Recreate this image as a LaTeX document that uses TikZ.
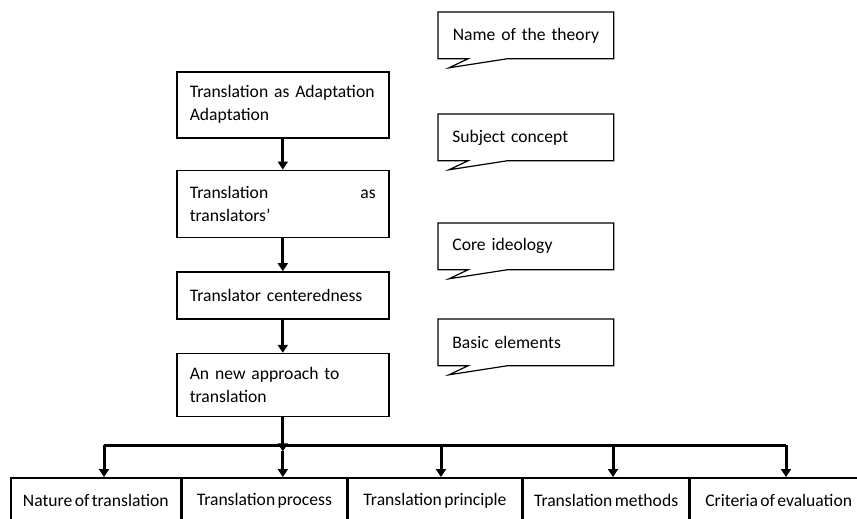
\documentclass[tikz,border=0pt]{standalone}
\usepackage{fontspec}
\setmainfont{Carlito}[WordSpace=0.6]
\usetikzlibrary{arrows.meta, positioning, calc}

\begin{document}
\begin{tikzpicture}[
    x=0.5pt, y=-0.5pt,
    box/.style={rectangle, draw, line width=0.8pt, text width=93pt, inner xsep=6.5pt, align=left, font=\fontsize{8.8}{11.5}\selectfont},
    note/.style={rectangle, minimum height=23pt, text width=73.5pt, inner xsep=7pt, align=left, font=\fontsize{8.8}{11.5}\selectfont},
    part/.style={rectangle, draw, line width=0.8pt, minimum height=23pt, inner xsep=2pt, align=center, font=\fontsize{8.8}{11.5}\selectfont},
    arrow/.style={-{Triangle[width=5pt,length=4pt]}, line width=1.5pt},
]
\useasboundingbox (0,0) rectangle (857,519);

% main column
\node[box, minimum height=33pt, anchor=north west] (adapt) at (176,71) {Translation as Adaptation\\Adaptation};
\node[box, minimum height=33.5pt, below=15.5pt of adapt] (view) {Translation\hfill as\\translators'};
\node[box, minimum height=23.5pt, below=16.5pt of view] (centre) {Translator centeredness};
\node[box, minimum height=31.5pt, below=16.5pt of centre] (approach) {An new approach to\\translation};

% callouts
\node[note, align=center, anchor=north west] (name) at (438,12) {Name of the theory};
\node[note, anchor=north west] (subject) at (438,114) {Subject concept};
\node[note, anchor=north west] (core) at (438,223) {Core ideology};
\node[note, anchor=north west] (basic) at (438,319) {Basic elements};
\foreach \n in {name,subject,core,basic}
  \draw[line width=0.6pt] (\n.south west) |- (\n.north east) |- ($(\n.south west)+(69,0)$)
    -- ($(\n.south west)+(11,9)$) -- ($(\n.south west)+(30,0)$) -- cycle;

% basic elements
\node[part, minimum width=85pt, anchor=north west] (nature) at (10,477) {Nature of translation};
\node[part, minimum width=82pt, right=0pt of nature] (process) {Translation process};
\node[part, minimum width=87pt, right=0pt of process] (principle) {Translation principle};
\node[part, minimum width=82.5pt, right=0pt of principle] (methods) {Translation methods};
\node[part, minimum width=88.5pt, right=0pt of methods] (criteria) {Criteria of evaluation};

\coordinate[below=17pt of approach] (bus);
\coordinate (b1) at (104,445);
\coordinate (b3) at (441,445);
\coordinate (b4) at (613,445);
\coordinate (b5) at (786,445);

\draw[line width=1.5pt] (b1) -- (b5);
\draw[arrow] (adapt) -- (view);
\draw[arrow] (view) -- (centre);
\draw[arrow] (centre) -- (approach);
\draw[arrow] (approach) -- (bus);
\foreach \b/\n in {b1/nature, bus/process, b3/principle, b4/methods, b5/criteria}
  \draw[arrow] (\b) -- (\b |- \n.north);

\end{tikzpicture}
\end{document}
